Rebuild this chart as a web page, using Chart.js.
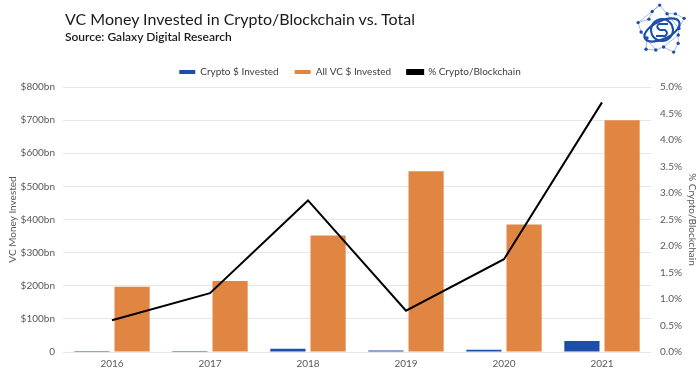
<!DOCTYPE html>
<html>
<head>
<meta charset="utf-8">
<script src="https://cdn.jsdelivr.net/npm/chart.js@4"></script>
<style>
  html, body { margin: 0; padding: 0; background: #fff; }
  #wrap { position: relative; width: 700px; height: 379px; }
  #title { position: absolute; left: 65px; top: 9px; font-family: Lato, sans-serif; font-size: 16px; color: #1a1a1a; white-space: nowrap; z-index: 2; }
  #subtitle { position: absolute; left: 65px; top: 29px; font-family: Lato, sans-serif; font-size: 12px; font-weight: 600; color: #1a1a1a; white-space: nowrap; z-index: 2; }
  canvas { position: absolute; left: 0; top: 0; }
</style>
</head>
<body>
<div id="wrap">
  <canvas id="c" width="700" height="379"></canvas>
  <div id="title">VC Money Invested in Crypto/Blockchain vs. Total</div>
  <div id="subtitle">Source: Galaxy Digital Research</div>
</div>
<script>
const categories = ["2016", "2017", "2018", "2019", "2020", "2021"];
const cryptoInvested = [1.5, 2.4, 10, 4.3, 6.7, 33];        // $bn
const allVcInvested = [197, 214, 352, 546, 385, 700];       // $bn
const pctCrypto = [0.60, 1.11, 2.86, 0.78, 1.75, 4.71];     // %
const leftTicks = [0, 100, 200, 300, 400, 500, 600, 700, 800];
const rightTicks = [0, 0.5, 1, 1.5, 2, 2.5, 3, 3.5, 4, 4.5, 5];

const BLUE = '#1c4fa8';
const ORANGE = '#e08542';
const TXT = '#595959';
const GRID = '#e6e6e6';
const FONT = { family: 'Lato', size: 10 };

const logoPlugin = {
  id: 'logo',
  afterDraw(chart) {
    const ctx = chart.ctx;
    const cx = 662, cy = 30;
    ctx.save();
    const pts = [];
    for (let i = 0; i < 16; i++) {
      const a = i / 16 * Math.PI * 2 + 0.3;
      const r = 17 + (i % 3) * 4;
      pts.push([cx + r * Math.cos(a), cy + r * Math.sin(a)]);
    }
    ctx.lineWidth = 0.6;
    ctx.strokeStyle = '#6d8fcf';
    for (let i = 0; i < pts.length; i++) {
      const p = pts[i], q = pts[(i + 1) % pts.length], w = pts[(i + 3) % pts.length];
      ctx.beginPath(); ctx.moveTo(p[0], p[1]); ctx.lineTo(q[0], q[1]); ctx.stroke();
      if (i % 4 === 0) { ctx.beginPath(); ctx.moveTo(p[0], p[1]); ctx.lineTo(w[0], w[1]); ctx.stroke(); }
    }
    ctx.fillStyle = BLUE;
    pts.forEach(p => { ctx.beginPath(); ctx.arc(p[0], p[1], 1.7, 0, Math.PI * 2); ctx.fill(); });
    ctx.strokeStyle = BLUE; ctx.lineWidth = 2.2;
    ctx.beginPath(); ctx.ellipse(cx, cy, 19, 9, -0.45, 0, Math.PI * 2); ctx.stroke();
    ctx.lineWidth = 2;
    ctx.beginPath(); ctx.arc(cx, cy, 11, 0, Math.PI * 2); ctx.stroke();
    ctx.beginPath();
    ctx.moveTo(cx + 6, cy - 6); ctx.lineTo(cx - 3, cy - 6);
    ctx.quadraticCurveTo(cx - 7, cy - 3, cx - 2, cy);
    ctx.lineTo(cx + 3, cy);
    ctx.quadraticCurveTo(cx + 7, cy + 3, cx + 3, cy + 6);
    ctx.lineTo(cx - 6, cy + 6);
    ctx.stroke();
    ctx.restore();
  }
};

new Chart(document.getElementById('c'), {
  data: {
    labels: categories,
    datasets: [
      { type: 'bar', label: 'Crypto $ Invested', data: cryptoInvested, backgroundColor: BLUE, borderWidth: 0, yAxisID: 'y', order: 1,
        categoryPercentage: 0.82, barPercentage: 0.875, minBarLength: 1 },
      { type: 'bar', label: 'All VC $ Invested', data: allVcInvested, backgroundColor: ORANGE, borderWidth: 0, yAxisID: 'y', order: 1,
        categoryPercentage: 0.82, barPercentage: 0.875 },
      { type: 'line', label: '% Crypto/Blockchain', data: pctCrypto, borderColor: '#000', backgroundColor: '#000', borderWidth: 2,
        pointRadius: 0, tension: 0, yAxisID: 'y1', order: 0 }
    ]
  },
  options: {
    responsive: false,
    animation: false,
    layout: { padding: { top: 51, left: 0, right: 0, bottom: 0 } },
    plugins: {
      tooltip: { enabled: false },
      legend: {
        position: 'top',
        labels: {
          font: FONT,
          color: '#404040',
          boxWidth: 16,
          boxHeight: 4,
          padding: 16,
          sort: (a, b) => a.datasetIndex - b.datasetIndex
        }
      }
    },
    scales: {
      x: {
        grid: { display: false, drawTicks: false },
        border: { display: false },
        ticks: { color: TXT, font: FONT, padding: 6 },
        afterFit(s) { s.height = 27; }
      },
      y: {
        position: 'left',
        min: 0, max: 800,
        afterBuildTicks(s) { s.ticks = leftTicks.map(v => ({ value: v })); },
        grid: { color: GRID, drawTicks: false },
        border: { display: false },
        ticks: { color: TXT, font: FONT, padding: 8,
          callback: v => v === 0 ? '0' : '$' + v + 'bn' },
        title: { display: true, text: 'VC Money Invested', color: TXT, font: FONT, padding: { top: 7, bottom: 0 } },
        afterFit(s) { s.width = 63; }
      },
      y1: {
        position: 'right',
        min: 0, max: 5,
        afterBuildTicks(s) { s.ticks = rightTicks.map(v => ({ value: v })); },
        grid: { display: false, drawTicks: false },
        border: { display: false },
        ticks: { color: TXT, font: FONT, padding: 9,
          callback: v => Number(v).toFixed(1) + '%' },
        title: { display: true, text: '% Crypto/Blockchain', color: TXT, font: FONT, padding: { top: 2, bottom: 0 } },
        afterFit(s) { s.width = 49; }
      }
    }
  },
  plugins: [logoPlugin]
});
</script>
</body>
</html>
